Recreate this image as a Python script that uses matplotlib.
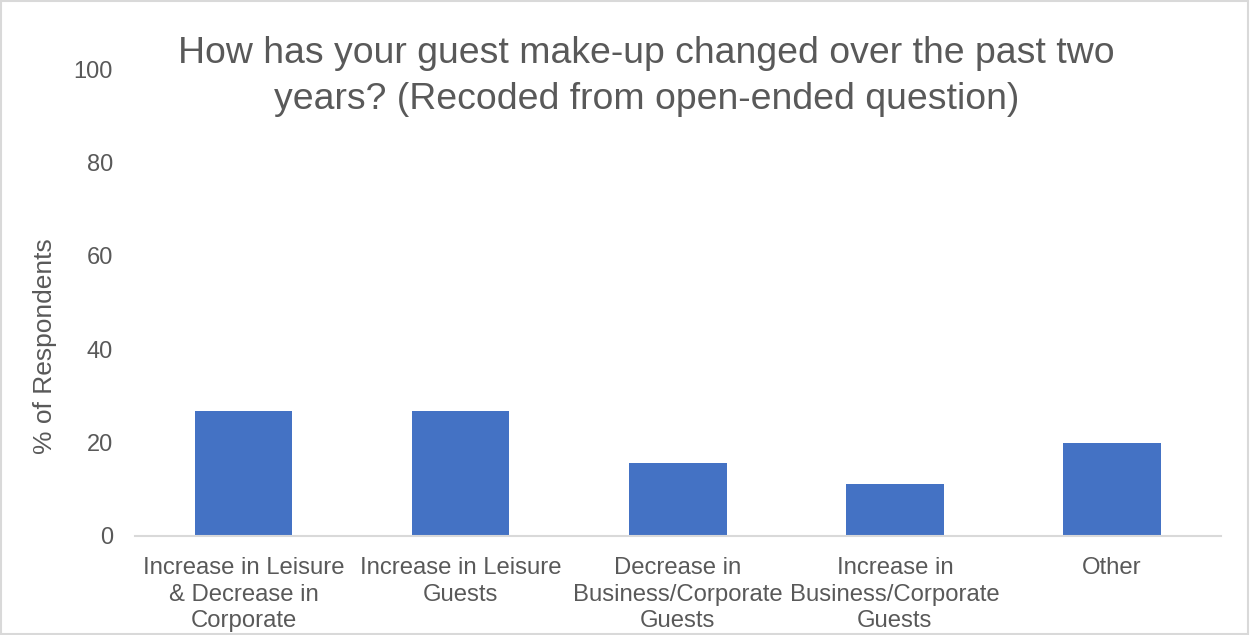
import matplotlib.pyplot as plt
from matplotlib.patches import Rectangle

plt.rcParams['font.family'] = ['Liberation Sans', 'DejaVu Sans']

categories = [
    "Increase in Leisure\n& Decrease in\nCorporate",
    "Increase in Leisure\nGuests",
    "Decrease in\nBusiness/Corporate\nGuests",
    "Increase in\nBusiness/Corporate\nGuests",
    "Other",
]
percent = [26.7, 26.7, 15.6, 11.1, 20.0]
yticks = [0, 20, 40, 60, 80, 100]

TEXT = '#595959'
BAR = '#4472C4'
LINE = '#D9D9D9'

fig = plt.figure(figsize=(12.5, 6.35), dpi=100)
ax = fig.add_axes([0.108, 0.156, 0.8684, 0.7353])

x = range(len(categories))
ax.bar(x, percent, width=0.45, color=BAR, zorder=2)

ax.set_xlim(-0.5, len(categories) - 0.5)
ax.set_ylim(0, 100)
ax.set_yticks(yticks)
ax.set_xticks(list(x))
ax.set_xticklabels(categories, fontsize=17.2, color=TEXT, linespacing=1.28)
ax.tick_params(axis='y', length=0, pad=15.8, labelsize=17, labelcolor=TEXT)
ax.tick_params(axis='x', length=0, pad=15)

for side in ['top', 'right', 'left']:
    ax.spines[side].set_visible(False)
ax.spines['bottom'].set_color(LINE)
ax.spines['bottom'].set_linewidth(1.5)

fig.text(0.517, 1 - 76.5 / 635, "How has your guest make-up changed over the past two\nyears? (Recoded from open-ended question)",
         ha='center', va='center', fontsize=26.9, color=TEXT, linespacing=1.38)
fig.text(45 / 1250, 1 - 346.5 / 635, "% of Respondents", rotation=90,
         ha='center', va='center', fontsize=19, color=TEXT)

# light frame round the whole chart
fig.patches.append(Rectangle((0.001, 0.001), 0.997, 0.997, transform=fig.transFigure,
                             fill=False, edgecolor=LINE, linewidth=1.5))

fig.savefig('out.png', dpi=100)
